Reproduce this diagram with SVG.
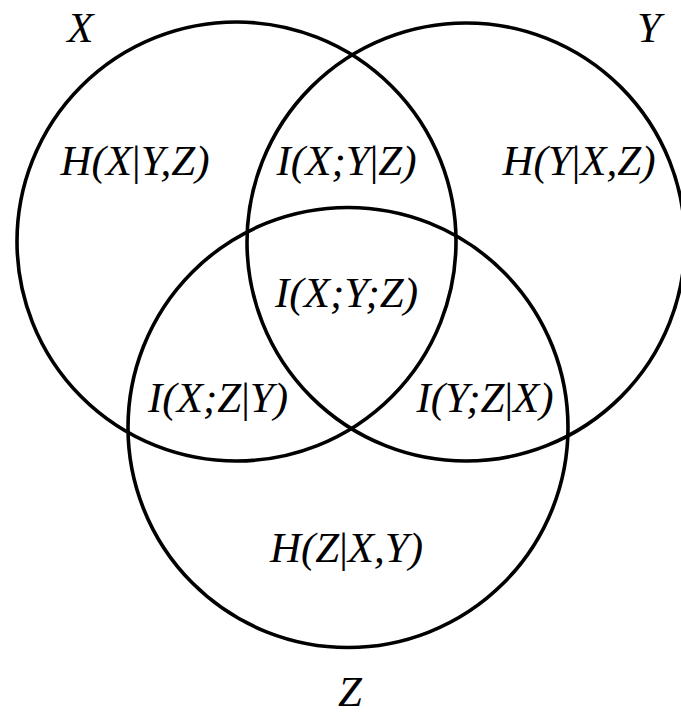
<svg xmlns="http://www.w3.org/2000/svg" width="681" height="716" viewBox="0 0 681 716">
<style>
.c{fill:none;stroke:#000;stroke-width:3.6}
.t{font-family:"Liberation Serif","Times New Roman",serif;font-style:italic;font-size:43px;fill:#000;text-anchor:middle}
.b{font-style:normal}
</style>
<rect width="681" height="716" fill="#fff"/>
<g id="circle-x"><circle class="c" cx="236.5" cy="241.5" r="219.5"/></g>
<g id="circle-y"><circle class="c" cx="466" cy="242" r="219"/></g>
<g id="circle-z"><circle class="c" cx="348" cy="427.5" r="220"/></g>
<g id="labels">
<text class="t" x="80.5" y="42">X</text>
<text class="t" x="649" y="42">Y</text>
<text class="t" x="350" y="706">Z</text>
</g>
<g id="regions">
<text class="t" x="135" y="175">H(X<tspan class="b">|</tspan>Y,Z)</text>
<text class="t" x="346.5" y="175">I(X;Y<tspan class="b">|</tspan>Z)</text>
<text class="t" x="579" y="175">H(Y<tspan class="b">|</tspan>X,Z)</text>
<text class="t" x="346.5" y="307">I(X;Y;Z)</text>
<text class="t" x="218" y="412">I(X;Z<tspan class="b">|</tspan>Y)</text>
<text class="t" x="485" y="412">I(Y;Z<tspan class="b">|</tspan>X)</text>
<text class="t" x="346.5" y="562">H(Z<tspan class="b">|</tspan>X,Y)</text>
</g>
</svg>
